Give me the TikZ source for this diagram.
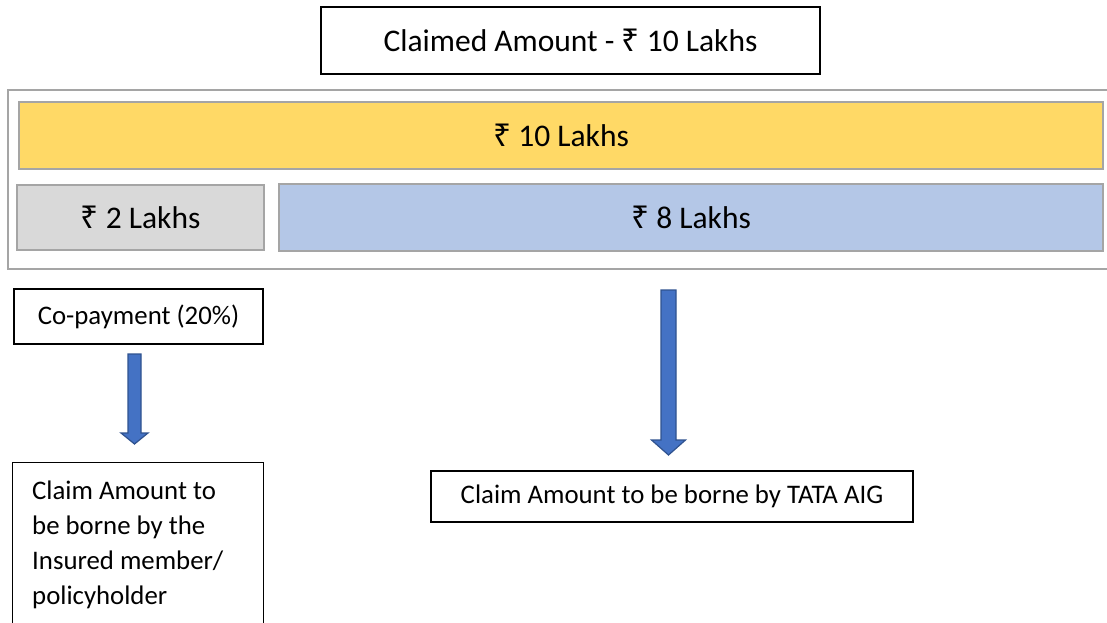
\documentclass[tikz,border=0pt]{standalone}
\usepackage{fontspec}
\setmainfont{Carlito}
\newfontfamily\rupfont{Noto Sans}
\newcommand{\rs}{{\rupfont ₹}}
\usetikzlibrary{calc}
\definecolor{yel}{HTML}{FFD966}
\definecolor{lgray}{HTML}{D9D9D9}
\definecolor{lblue}{HTML}{B4C7E7}
\definecolor{framegray}{HTML}{A5A5A5}
\definecolor{arrfill}{HTML}{4472C4}
\definecolor{arrdraw}{HTML}{2F528F}
\tikzset{
  blackbox/.style={draw=black, line width=1.2pt, fill=white, inner sep=0pt},
  bar/.style={draw=framegray, line width=2pt, inner sep=0pt},
  big/.style={font=\fontsize{31.5}{38}\selectfont},
  mid/.style={font=\fontsize{26.8}{35}\selectfont},
  blockarrow/.style={fill=arrfill, draw=arrdraw, line width=1.2pt, line join=miter},
}
\newcommand{\mybarrow}[5]{%
  \filldraw[blockarrow] ($(#1)+(-#3,0)$) -- ($(#1)+(#3,0)$) -- ($(#2)+(#3,#5)$) -- ($(#2)+(#4,#5)$) -- (#2) -- ($(#2)+(-#4,#5)$) -- ($(#2)+(-#3,#5)$) -- cycle;}
\begin{document}
\begin{tikzpicture}[x=1pt,y=1pt]
\useasboundingbox (0,0) rectangle (1107,-622);
\clip (0,0) rectangle (1107,-622);
\fill[white] (0,0) rectangle (1107,-622);
% top
\node[blackbox, big, minimum width=499pt, minimum height=67pt] (top) at (570.5,-40.5) {Claimed Amount - \rs\ 10 Lakhs};
% frame
\coordinate (fr1) at (1130,-90);
\coordinate (fr2) at (8,-90);
\coordinate (fr3) at (8,-269);
\coordinate (fr4) at (1130,-269);
\draw[draw=framegray, line width=2pt] (fr1) -- (fr2) -- (fr3) -- (fr4);
% bars
\node[bar, big, fill=yel, minimum width=1084pt, minimum height=67pt] (ten) at (561,-135.5) {\rs\ 10 Lakhs};
\node[bar, big, fill=lgray, minimum width=247pt, minimum height=65pt] (two) at (140.5,-217.5) {\rs\ 2 Lakhs};
\node[bar, big, fill=lblue, minimum width=824pt, minimum height=67pt] (eight) at (691,-217.5) {\rs\ 8 Lakhs};
% co-payment
\node[blackbox, mid, minimum width=249pt, minimum height=55pt] (copay) at (138.5,-316.5) {Co-payment (20\%)};
% left claim box
\node[blackbox, minimum width=251pt, minimum height=200pt, anchor=north west] (claimL) at (12,-462) {};
\node[mid, align=left, anchor=north west, inner sep=0pt] (claimLtxt) at (32,-481) {Claim Amount to\\be borne by the\\Insured member/\\policyholder};
% right claim box
\node[blackbox, mid, minimum width=482pt, minimum height=51pt] (claimR) at (672,-496.5) {Claim Amount to be borne by TATA AIG};
% arrows
\coordinate (a1s) at (134.5,-354);
\coordinate (a1e) at (134.5,-444);
\mybarrow{a1s}{a1e}{6.5}{13.5}{11}
\coordinate (a2s) at (668.5,-290);
\coordinate (a2e) at (668.5,-455);
\mybarrow{a2s}{a2e}{7.5}{17}{15}
\end{tikzpicture}
\end{document}
